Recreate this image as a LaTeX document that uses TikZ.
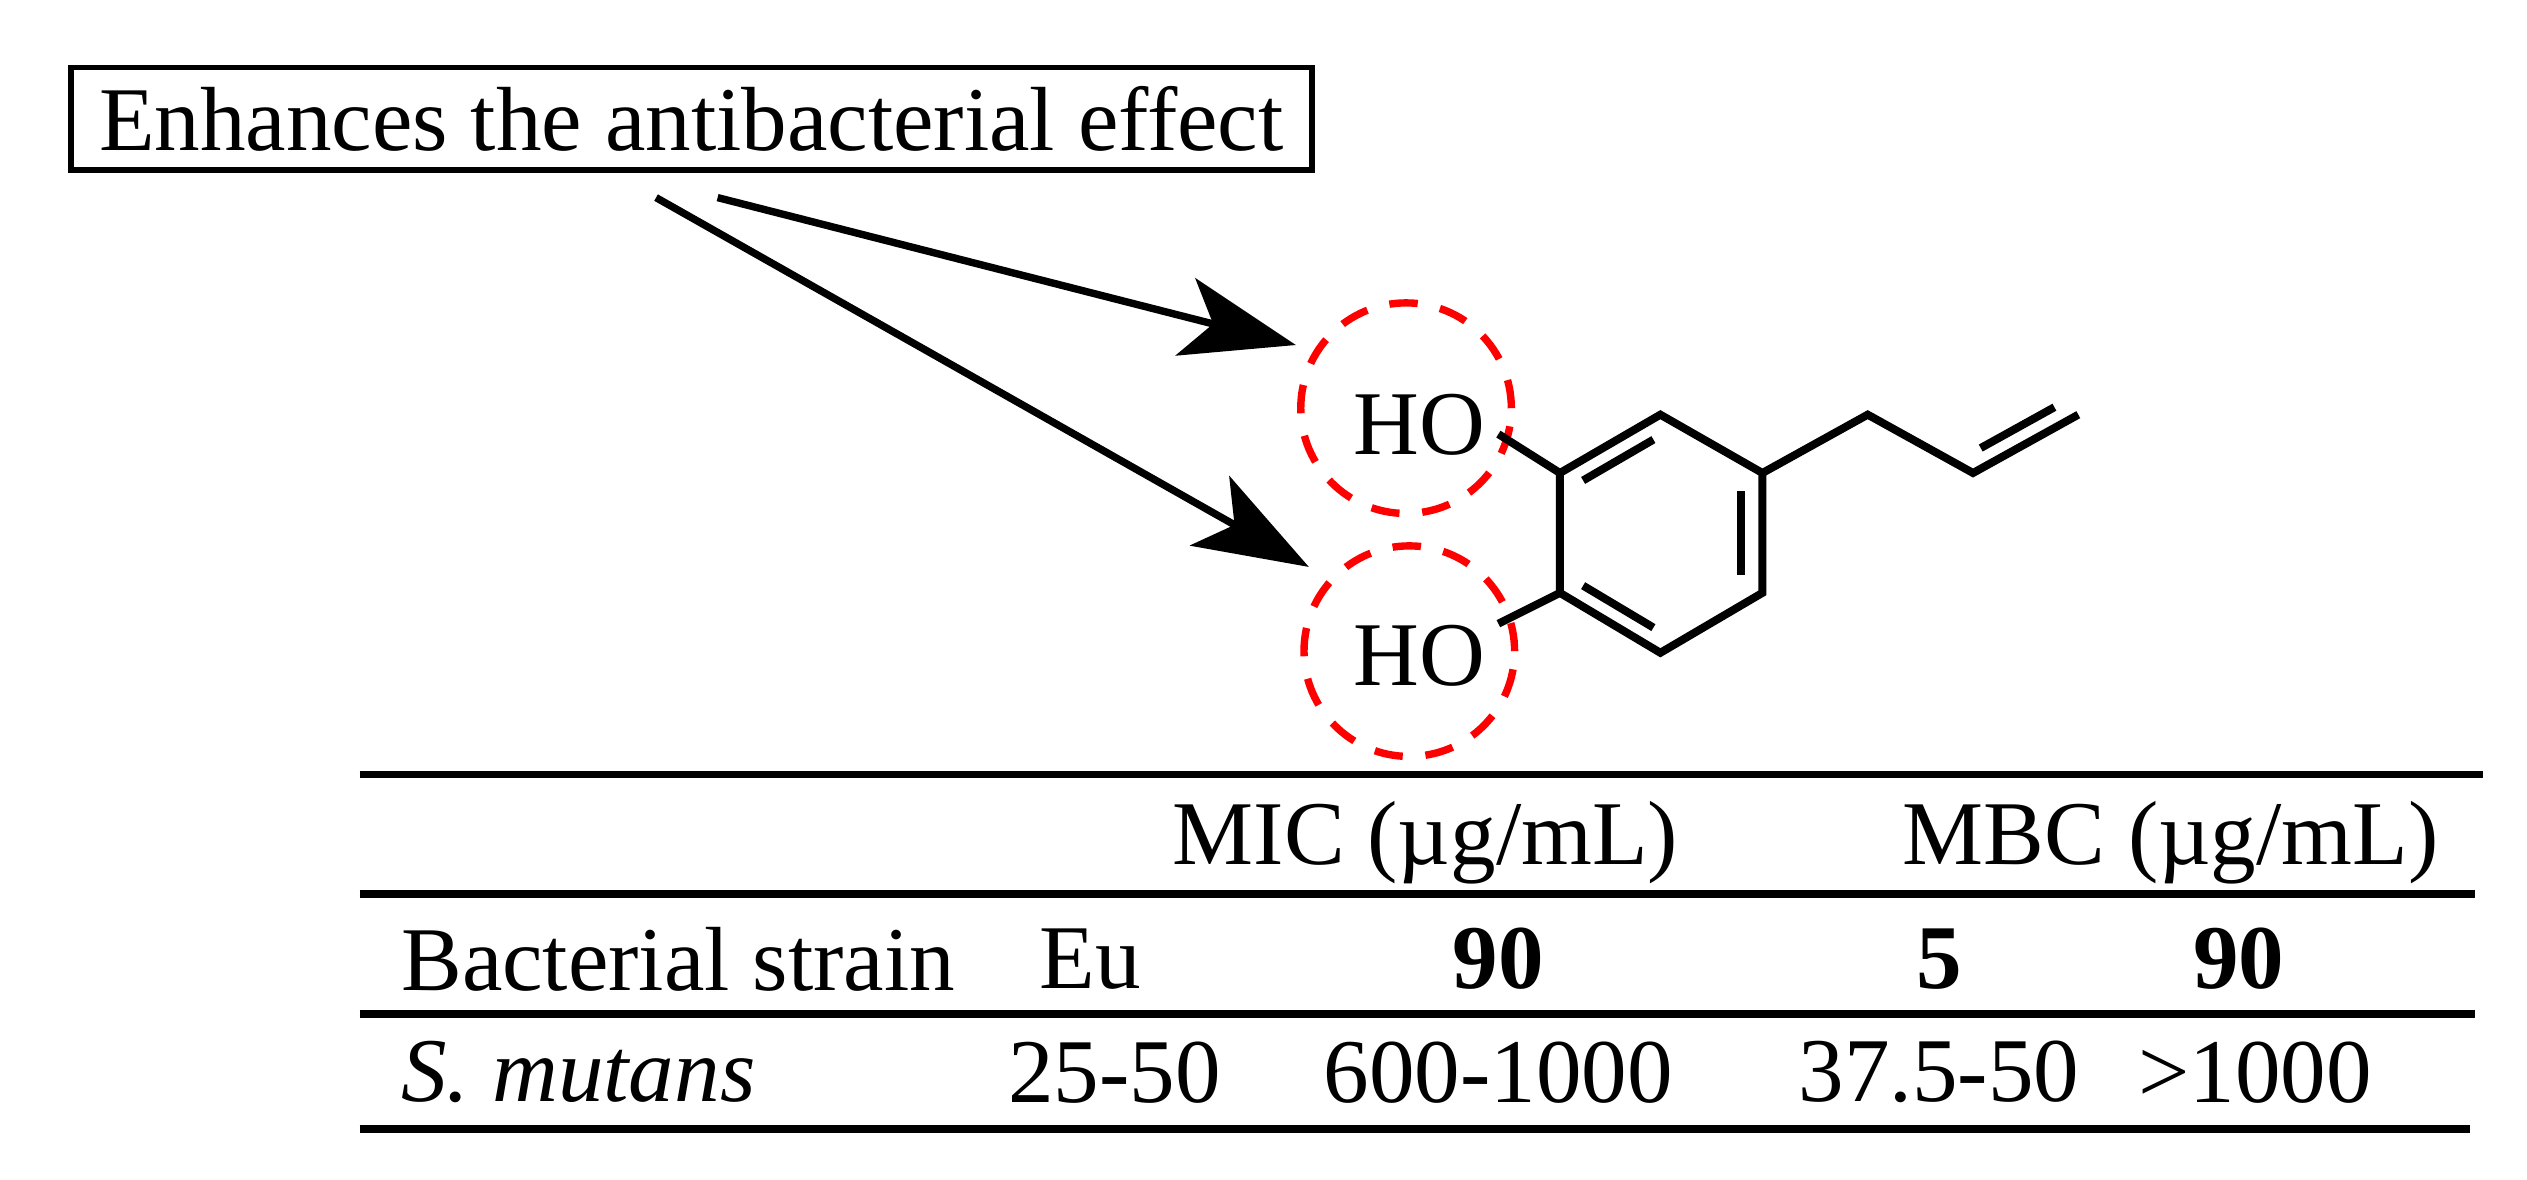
\documentclass[tikz,border=0pt]{standalone}
\usepackage{fontspec}
\setmainfont{Liberation Serif}
\usetikzlibrary{arrows.meta,calc}
\begin{document}
\begin{tikzpicture}[x=0.1mm,y=-0.1mm,
  txt/.style={font=\fontsize{16}{18}\selectfont,inner sep=0pt},
  bond/.style={line width=1.4pt},
  arr/.style={line width=1.3pt,-{Stealth[length=20pt,width=14pt,inset=5pt]}},
  hilite/.style={draw=red,line width=1.3pt,dash pattern=on 5pt off 4pt}]
\useasboundingbox (0,0) rectangle (1560,728);
\node[draw,line width=1pt,inner sep=0pt,txt,anchor=north west,minimum height=0.63cm,minimum width=7.66cm] (box) at (42,40) {Enhances the antibacterial effect};
\coordinate (s1) at (405,122); \coordinate (s2) at (443,122);
\coordinate (t1) at (808,350); \coordinate (t2) at (800,213);
\draw[arr] (s1) -- (t1);
\draw[arr] (s2) -- (t2);
\node[hilite,circle,minimum size=1.3cm] (c1) at (868,252) {};
\node[hilite,circle,minimum size=1.3cm] (c2) at (870,402) {};
\node[txt] (o1) at (876,262) {HO};
\node[txt] (o2) at (876,405) {HO};
\coordinate (a1) at (963,292); \coordinate (a2) at (1025,256); \coordinate (a3) at (1088,292);
\coordinate (a4) at (1088,366); \coordinate (a5) at (1025,403); \coordinate (a6) at (963,366);
\coordinate (b1) at (1153,256); \coordinate (b2) at (1218,292); \coordinate (b3) at (1283,256);
\draw[bond] (a1)--(a2)--(a3)--(a4)--(a5)--(a6)--cycle;
\draw[bond] (925,268)--(a1); \draw[bond] (925,385)--(a6);
\draw[bond] (a3)--(b1)--(b2)--(b3);
\draw[bond] ($(a1)!0.15!(a2)+(5,10)$) -- ($(a1)!0.85!(a2)+(5,10)$);
\draw[bond] (1075,303)--(1075,355);
\draw[bond] ($(a5)!0.15!(a6)+(5,-10)$) -- ($(a5)!0.85!(a6)+(5,-10)$);
\draw[bond] ($(b2)!0.15!(b3)+(-5,-10)$) -- ($(b2)!0.85!(b3)+(-5,-10)$);
\draw[line width=1.3pt] (222,478)--(1533,478);
\draw[line width=1.3pt] (222,552)--(1528,552);
\draw[line width=1.3pt] (222,626)--(1528,626);
\draw[line width=1.3pt] (222,697)--(1525,697);
\node[txt] (h1) at (880,520) {MIC (µg/mL)};
\node[txt] (h2) at (1340,520) {MBC (µg/mL)};
\node[txt,anchor=west] (r1) at (247,592) {Bacterial strain};
\node[txt] at (673,592) {Eu};
\node[txt] at (925,592) {\textbf{90}};
\node[txt] at (1197,592) {\textbf{5}};
\node[txt] at (1382,592) {\textbf{90}};
\node[txt,anchor=west] at (247,662) {\textit{S. mutans}};
\node[txt] at (688,662) {25-50};
\node[txt] at (925,662) {600-1000};
\node[txt] at (1197,662) {37.5-50};
\node[txt] at (1392,662) {>1000};
\end{tikzpicture}
\end{document}
